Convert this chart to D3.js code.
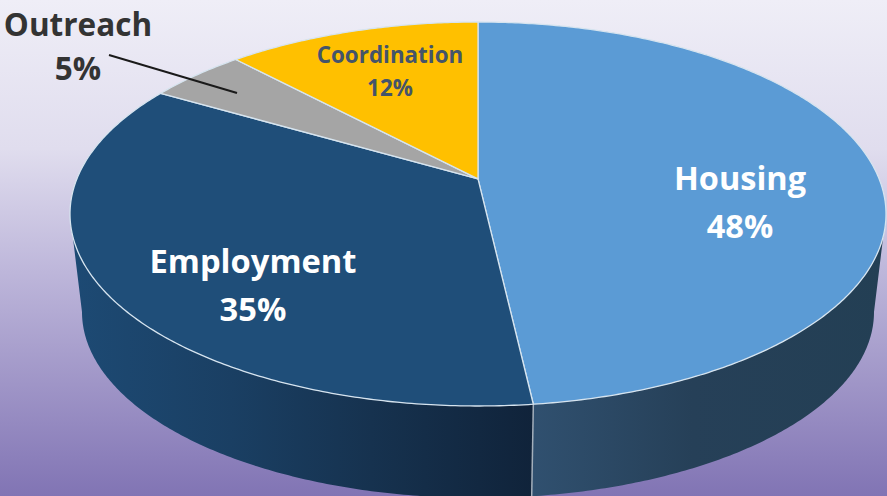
<!DOCTYPE html>
<html>
<head>
<meta charset="utf-8">
<script src="https://cdn.jsdelivr.net/npm/d3@7"></script>
<style>
  html, body { margin: 0; padding: 0; overflow: hidden; }
  text { font-family: "Open Sans", sans-serif; font-weight: 700; }
</style>
</head>
<body>
<div id="chart"></div>
<script>
// shares (labels round them)
var categories = ["Housing", "Employment", "Outreach", "Coordination"];
var shares = [0.482, 0.352, 0.046, 0.12];
var topColors = ["#5b9bd5", "#1f4e79", "#a5a5a5", "#ffc000"];
var sideStops = [
  [["#30506f", 0], ["#264058", 0.45], ["#233f54", 1]],
  [["#1d4a74", 0], ["#1a3f63", 0.35], ["#16324f", 0.65], ["#10233a", 1]]
];

var w = 887, h = 496;
var tilt = 0.183; // how far the apex sits above the middle of the ellipse

var svg = d3.select("#chart").append("svg")
  .attr("width", w)
  .attr("height", h)
  .style("display", "block");

var defs = svg.append("defs");

var bg = defs.append("linearGradient")
  .attr("id", "bg")
  .attr("x1", 0).attr("y1", 0).attr("x2", 0).attr("y2", 1);
bg.append("stop").attr("offset", 0).attr("stop-color", "#efeef7");
bg.append("stop").attr("offset", 0.3).attr("stop-color", "#e0ddee");
bg.append("stop").attr("offset", 0.55).attr("stop-color", "#bdb6da");
bg.append("stop").attr("offset", 1).attr("stop-color", "#8174b4");

svg.append("rect").attr("width", w).attr("height", h).attr("fill", "url(#bg)");

// unit disc -> screen, top face and the smaller bottom rim
var xTop = d3.scaleLinear().domain([-1, 1]).range([70, 886]);
var yTop = d3.scaleLinear().domain([-1, 1]).range([406, 22]);
var xBot = d3.scaleLinear().domain([-1, 1]).range([82, 874]);
var yBot = d3.scaleLinear().domain([-1, 1]).range([498, 126]);

function project(angle) {
  var u = Math.sin(angle), v = Math.cos(angle);
  var d = 1 + tilt * v;
  return [u * Math.sqrt(1 - tilt * tilt) / d, (v + tilt) / d];
}

var arcs = d3.pie().sort(null).value(function(d) { return d; })(shares);

function rim(a0, a1) {
  var n = Math.ceil((a1 - a0) / 0.01);
  return d3.range(n + 1).map(function(i) {
    return project(a0 + (a1 - a0) * i / n);
  });
}

var lineTop = d3.line().x(function(p) { return xTop(p[0]); }).y(function(p) { return yTop(p[1]); });
var lineBot = d3.line().x(function(p) { return xBot(p[0]); }).y(function(p) { return yBot(p[1]); });

// side wall, only the front half of the rim shows
var frontStart = Math.acos(-tilt);
var frontEnd = 2 * Math.PI - frontStart;
arcs.forEach(function(a, i) {
  var a0 = Math.max(a.startAngle, frontStart);
  var a1 = Math.min(a.endAngle, frontEnd);
  if (a1 <= a0) return;
  var pts = rim(a0, a1);
  var g = defs.append("linearGradient")
    .attr("id", "side" + i)
    .attr("gradientUnits", "userSpaceOnUse")
    .attr("x1", d3.min(pts, function(p) { return xTop(p[0]); }))
    .attr("x2", d3.max(pts, function(p) { return xTop(p[0]); }))
    .attr("y1", 0).attr("y2", 0);
  sideStops[i].forEach(function(s) {
    g.append("stop").attr("offset", s[1]).attr("stop-color", s[0]);
  });
  var d = lineTop(pts) + "L" + lineBot(pts.slice().reverse()).slice(1) + "Z";
  svg.append("path").attr("d", d).attr("fill", "url(#side" + i + ")");
});

// seam between the two visible walls
var seam = project(arcs[0].endAngle);
svg.append("line")
  .attr("x1", xTop(seam[0])).attr("y1", yTop(seam[1]))
  .attr("x2", xBot(seam[0])).attr("y2", yBot(seam[1]))
  .attr("stroke", "#a3afbb").attr("stroke-width", 1.5);

// top face
var apexPt = [0, tilt];
arcs.forEach(function(a, i) {
  var d = "M" + xTop(apexPt[0]) + "," + yTop(apexPt[1]) + "L" + lineTop(rim(a.startAngle, a.endAngle)).slice(1) + "Z";
  svg.append("path")
    .attr("d", d)
    .attr("fill", topColors[i])
    .attr("stroke", "#d6e4ef")
    .attr("stroke-width", 1.3)
    .attr("stroke-linejoin", "round");
});

// leader for the small slice
svg.append("line")
  .attr("x1", 109).attr("y1", 55)
  .attr("x2", 237).attr("y2", 93)
  .attr("stroke", "#1a1a1a").attr("stroke-width", 2);

var pct = d3.format(".0%");
var labels = [
  { x: 740, y1: 190, y2: 238, size: 32.5, fill: "#ffffff" },
  { x: 253, y1: 273, y2: 321, size: 32.7, fill: "#ffffff" },
  { x: 78, y1: 36, y2: 80, size: 31.5, fill: "#333333" },
  { x: 390, y1: 63, y2: 96, size: 22.4, fill: "#44546a" }
];
categories.forEach(function(c, i) {
  var l = labels[i];
  var t = svg.append("text")
    .attr("text-anchor", "middle")
    .attr("font-size", l.size)
    .attr("fill", l.fill);
  t.append("tspan").attr("x", l.x).attr("y", l.y1).text(c);
  t.append("tspan").attr("x", l.x).attr("y", l.y2).text(pct(shares[i]));
});
</script>
</body>
</html>
